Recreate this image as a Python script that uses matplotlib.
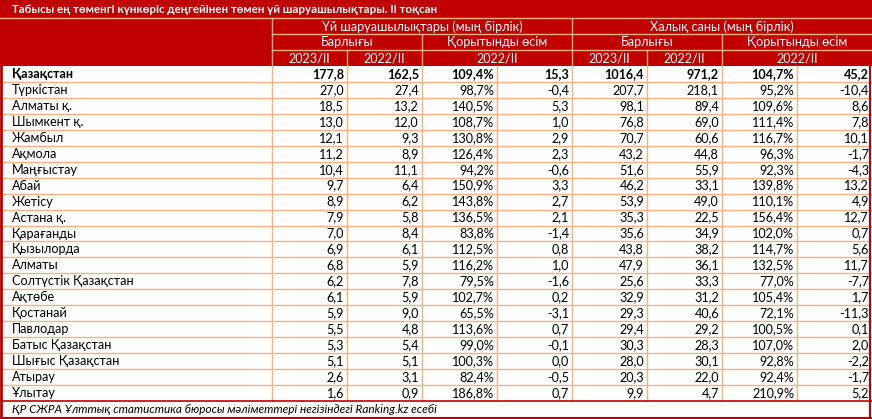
import matplotlib.pyplot as plt
from matplotlib.patches import Rectangle

plt.rcParams['font.family'] = ['Lato', 'DejaVu Sans']

title = "Табысы ең төменгі күнкөріс деңгейінен төмен үй шаруашылықтары. II тоқсан"
source = "ҚР СЖРА Ұлттық статистика бюросы мәліметтері негізіндегі Ranking.kz есебі"

regions = ["Қазақстан", "Түркістан", "Алматы қ.", "Шымкент қ.", "Жамбыл", "Ақмола",
           "Маңғыстау", "Абай", "Жетісу", "Астана қ.", "Қарағанды", "Қызылорда",
           "Алматы", "Солтүстік Қазақстан", "Ақтөбе", "Қостанай", "Павлодар",
           "Батыс Қазақстан", "Шығыс Қазақстан", "Атырау", "Ұлытау"]

hh_2023 = ["177,8", "27,0", "18,5", "13,0", "12,1", "11,2", "10,4", "9,7", "8,9", "7,9", "7,0",
           "6,9", "6,8", "6,2", "6,1", "5,9", "5,5", "5,3", "5,1", "2,6", "1,6"]
hh_2022 = ["162,5", "27,4", "13,2", "12,0", "9,3", "8,9", "11,1", "6,4", "6,2", "5,8", "8,4",
           "6,1", "5,9", "7,8", "5,9", "9,0", "4,8", "5,4", "5,1", "3,1", "0,9"]
hh_pct = ["109,4%", "98,7%", "140,5%", "108,7%", "130,8%", "126,4%", "94,2%", "150,9%",
          "143,8%", "136,5%", "83,8%", "112,5%", "116,2%", "79,5%", "102,7%", "65,5%",
          "113,6%", "99,0%", "100,3%", "82,4%", "186,8%"]
hh_diff = ["15,3", "-0,4", "5,3", "1,0", "2,9", "2,3", "-0,6", "3,3", "2,7", "2,1", "-1,4",
           "0,8", "1,0", "-1,6", "0,2", "-3,1", "0,7", "-0,1", "0,0", "-0,5", "0,7"]
pop_2023 = ["1016,4", "207,7", "98,1", "76,8", "70,7", "43,2", "51,6", "46,2", "53,9", "35,3",
            "35,6", "43,8", "47,9", "25,6", "32,9", "29,3", "29,4", "30,3", "28,0", "20,3", "9,9"]
pop_2022 = ["971,2", "218,1", "89,4", "69,0", "60,6", "44,8", "55,9", "33,1", "49,0", "22,5",
            "34,9", "38,2", "36,1", "33,3", "31,2", "40,6", "29,2", "28,3", "30,1", "22,0", "4,7"]
pop_pct = ["104,7%", "95,2%", "109,6%", "111,4%", "116,7%", "96,3%", "92,3%", "139,8%",
           "110,1%", "156,4%", "102,0%", "114,7%", "132,5%", "77,0%", "105,4%", "72,1%",
           "100,5%", "107,0%", "92,8%", "92,4%", "210,9%"]
pop_diff = ["45,2", "-10,4", "8,6", "7,8", "10,1", "-1,7", "-4,3", "13,2", "4,9", "12,7", "0,7",
            "5,6", "11,7", "-7,7", "1,7", "-11,3", "0,1", "2,0", "-2,2", "-1,7", "5,2"]

columns = [hh_2023, hh_2022, hh_pct, hh_diff, pop_2023, pop_2022, pop_pct, pop_diff]

group_labels = ["Үй шаруашылықтары (мың бірлік)", "Халық саны (мың бірлік)"]
sub_labels = ["Барлығы", "Қорытынды өсім", "Барлығы", "Қорытынды өсім"]
period_labels = [("2023/II", 0, 1), ("2022/II", 1, 2), ("2022/II", 2, 4),
                 ("2023/II", 4, 5), ("2022/II", 5, 6), ("2022/II", 6, 8)]

W, H = 872, 419
red = "#C00000"
peach = "#F4B183"
border = "#C00000"

fig = plt.figure(figsize=(W / 100, H / 100), dpi=100)
ax = fig.add_axes([0, 0, 1, 1])
ax.set_xlim(0, W)
ax.set_ylim(H, 0)
ax.axis("off")

name_w = 272
col_w = 75
col_x = [name_w + i * col_w for i in range(9)]
row_top = 66
row_h = (401 - row_top) / len(regions)
fs = 9.1

# header background
ax.add_patch(Rectangle((0, 0), W, row_top, color=red, lw=0))
ax.text(12, 9.5, title, color="white", fontsize=8.3, fontweight="bold", va="center", ha="left")

# header grid lines
ax.plot([0, W], [18, 18], color=peach, lw=1)
ax.plot([name_w, W], [34, 34], color=peach, lw=1)
ax.plot([name_w, W], [50, 50], color=peach, lw=1)
ax.plot([name_w, name_w], [18, row_top], color=peach, lw=1)
ax.plot([col_x[4], col_x[4]], [18, row_top], color=peach, lw=1)
for k in (2, 6):
    ax.plot([col_x[k], col_x[k]], [34, row_top], color=peach, lw=1)
for k in (1, 5):
    ax.plot([col_x[k], col_x[k]], [50, row_top], color=peach, lw=1)

for g, lab in enumerate(group_labels):
    xc = (col_x[4 * g] + col_x[4 * g + 4]) / 2
    ax.text(xc, 26.5, lab, color="white", fontsize=fs, ha="center", va="center")
for s, lab in enumerate(sub_labels):
    xc = (col_x[2 * s] + col_x[2 * s + 2]) / 2
    ax.text(xc, 42.5, lab, color="white", fontsize=fs, ha="center", va="center")
for lab, a, b in period_labels:
    xc = (col_x[a] + col_x[b]) / 2
    ax.text(xc, 58.5, lab, color="white", fontsize=fs, ha="center", va="center")

# body grid
for i in range(1, len(regions)):
    y = row_top + i * row_h
    ax.plot([0, W], [y, y], color=peach, lw=1)
for x in col_x[:-1]:
    ax.plot([x, x], [row_top, 401], color=peach, lw=1)

# body text
for i, name in enumerate(regions):
    yc = row_top + (i + 0.5) * row_h
    weight = "bold" if i == 0 else "normal"
    ax.text(12, yc, name, fontsize=fs, ha="left", va="center", fontweight=weight)
    for j, col in enumerate(columns):
        ax.text(col_x[j + 1] - 3, yc, col[i], fontsize=fs, ha="right", va="center",
                fontweight=weight)

# outer borders
ax.plot([1, 1], [row_top, 418], color=border, lw=2)
ax.plot([870, 870], [row_top, 418], color=border, lw=1.5)
ax.plot([0, W], [401, 401], color=border, lw=1.2)
ax.plot([0, W], [417.5, 417.5], color=border, lw=1.5)

ax.text(12, 409.5, source, fontsize=8.5, style="italic", ha="left", va="center")

fig.savefig("out.png", dpi=100)
